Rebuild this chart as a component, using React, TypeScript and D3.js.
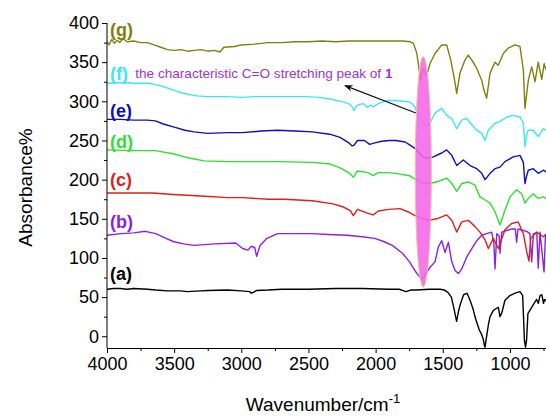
import React, { useEffect, useRef } from 'react';
import * as d3 from 'd3';

// FTIR spectra, offset vertically. [wavenumber, absorbance%]
const traceA: [number, number][] = [
  [4000,60],[3950,61],[3900,61],[3850,60],[3800,61],[3700,60],[3637,59],[3550,58],[3450,58],[3404,57],[3300,58],[3249,58.5],
  [3100,59],[3000,58],[2938,57],[2925,55],[2900,57],[2886,58.5],[2800,59],[2700,60],[2500,60],[2300,61],[2100,61],[1900,60],
  [1824,60],[1790,58],[1773,57],[1740,59],[1695,59],[1600,60],[1520,60],[1488,59],[1462,56],[1436,50],[1415,34],[1397,19],
  [1385,30],[1371,40],[1345,53],[1319,55],[1297,46],[1275,35],[1255,22],[1228,8],[1210,2],[1198,-4],[1190,-12],[1185,-14],
  [1177,-4],[1160,15],[1148,25],[1123,33],[1086,37],[1074,25],[1060,30],[1037,46],[1000,52],[962,55],[925,57],[905,52],
  [892,-5],[884,-14],[876,-5],[866,29],[838,37],[820,42],[801,47],[788,42],[776,52],[762,53],[750,42],[742,47],[731,45]
];

const traceB: [number, number][] = [
  [4000,129],[3896,131],[3800,132],[3715,134],[3637,131],[3560,125],[3508,121],[3430,118],[3352,116],[3197,118],[3042,119],
  [2990,112],[2951,110],[2925,115],[2900,113],[2886,102],[2860,116],[2809,125],[2731,131],[2600,131],[2472,131],[2350,130],
  [2213,129],[2100,127],[2006,125],[1940,121],[1876,116],[1800,106],[1747,95],[1700,82],[1682,78],[1657,73],[1632,78],
  [1595,88],[1558,95],[1533,114],[1508,122],[1483,107],[1458,120],[1433,95],[1408,84],[1384,80],[1359,86],[1322,101],
  [1284,112],[1247,122],[1210,129],[1173,131],[1136,133],[1120,120],[1111,86],[1098,131],[1080,128],[1074,106],[1061,133],
  [1024,135],[987,137],[960,137],[950,120],[940,137],[900,135],[875,134],[851,131],[838,95],[825,131],[800,132],[789,87],
  [776,133],[746,82],[735,131]
];

const traceC: [number, number][] = [
  [4000,183],[3800,183],[3663,183],[3508,181],[3301,179],[3100,177],[2990,177],[2800,175],[2679,175],[2472,173],[2317,169],
  [2239,165],[2187,160],[2166,154],[2135,162],[2057,157],[2018,155],[1980,160],[1900,162],[1818,163],[1747,158],[1719,155],
  [1608,148],[1545,150],[1471,155],[1433,148],[1396,133],[1359,146],[1310,148],[1260,140],[1223,133],[1185,123],[1161,112],
  [1123,125],[1086,112],[1037,136],[987,144],[938,146],[900,131],[875,108],[858,96],[845,125],[801,133],[751,127],[731,130]
];

const traceD: [number, number][] = [
  [4000,238],[3800,237],[3640,237],[3508,233],[3400,228],[3275,224],[3100,223],[2990,223],[2731,223],[2472,222],[2342,220],
  [2265,215],[2200,209],[2166,203],[2135,211],[2057,209],[2018,205],[1980,209],[1900,209],[1818,207],[1747,205],[1719,202],
  [1645,195],[1608,195],[1545,197],[1471,202],[1433,195],[1396,185],[1359,195],[1310,197],[1260,193],[1223,178],[1185,174],
  [1148,170],[1111,159],[1074,142],[1037,161],[999,178],[950,187],[912,182],[888,170],[863,176],[826,182],[789,176],
  [751,178],[731,176]
];

const traceE: [number, number][] = [
  [4000,277],[3900,277],[3800,276],[3700,276],[3640,275],[3580,271],[3500,267],[3420,263],[3352,261],[3250,259],[3100,260],
  [2990,260],[2850,262],[2731,263],[2600,262],[2472,261],[2342,258],[2265,254],[2200,247],[2175,243],[2160,244],[2135,250],
  [2083,250],[2044,245],[2006,247],[1954,249],[1900,250],[1850,250],[1780,248],[1744,244],[1707,240],[1670,233],[1640,228],
  [1620,227],[1570,229],[1508,234],[1471,238],[1433,231],[1396,218],[1347,225],[1297,218],[1247,214],[1210,208],[1185,200],
  [1148,208],[1111,214],[1074,216],[1037,223],[975,229],[925,231],[900,222],[888,195],[875,205],[863,212],[826,214],
  [789,208],[751,212],[731,210]
];

const traceF: [number, number][] = [
  [4000,323],[3900,324],[3800,323],[3690,323],[3630,321],[3586,319],[3500,314],[3430,310],[3330,307],[3250,306],[3100,306],
  [3000,305],[2900,306],[2800,306],[2700,306],[2600,306],[2520,306],[2420,305],[2340,303],[2260,300],[2200,297],[2175,293],
  [2160,288],[2145,294],[2120,296],[2090,297],[2060,292],[2040,295],[2018,293],[1990,296],[1967,298],[1930,300],[1893,301],
  [1850,301],[1800,300],[1744,299],[1707,293],[1682,280],[1645,272],[1620,267],[1595,272],[1558,285],[1508,291],[1471,282],
  [1433,278],[1396,265],[1359,276],[1322,278],[1284,270],[1247,263],[1210,259],[1185,250],[1161,263],[1111,272],[1074,274],
  [1024,280],[975,282],[925,280],[900,272],[888,242],[875,258],[863,263],[826,263],[789,255],[751,265],[731,263]
];

const traceG: [number, number][] = [
  [4000,376],[3985,372],[3965,379],[3945,374],[3925,378],[3905,375],[3880,380],[3850,376],[3800,377],[3750,375],[3700,375],
  [3650,372],[3600,369],[3550,366],[3500,365],[3450,366],[3400,364],[3350,365],[3300,366],[3250,364],[3200,365],[3160,363],
  [3130,369],[3050,370],[3000,372],[2900,373],[2800,375],[2700,375],[2600,376],[2500,376],[2400,377],[2300,376],[2200,377],
  [2100,377],[2000,377],[1900,377],[1800,377],[1740,376],[1719,374],[1694,362],[1664,327],[1645,342],[1620,333],[1595,348],
  [1558,361],[1508,372],[1471,372],[1441,353],[1416,331],[1396,310],[1372,336],[1334,353],[1310,359],[1284,353],[1247,342],
  [1210,327],[1193,314],[1173,304],[1148,336],[1111,350],[1087,346],[1049,361],[1012,368],[962,372],[925,370],[900,340],
  [888,291],[863,327],[838,344],[813,325],[789,350],[763,328],[745,348],[731,340]
];

const seriesNames = ['(a)', '(b)', '(c)', '(d)', '(e)', '(f)', '(g)'];
const seriesData = [traceA, traceB, traceC, traceD, traceE, traceF, traceG];
const seriesColors = ['#000000', '#8a22e6', '#e01e1e', '#33dd33', '#1010b4', '#3ee6f2', '#808010'];
// y value where each series label sits (its baseline)
const labelLevels = [72, 138, 192, 241, 280, 327, 383];

const yTicks = [0, 50, 100, 150, 200, 250, 300, 350, 400];
const xTicks = [4000, 3500, 3000, 2500, 2000, 1500, 1000];

const peakBand = { center: 1645, halfWidth: 60, low: 63, high: 357 };
const arrowFrom: [number, number] = [1700, 285];
const arrowTo: [number, number] = [2228, 320];
const noteAt: [number, number] = [3790, 330];

const W = 546, H = 418;
const font = '"Liberation Sans", Arial, sans-serif';

const App = () => {
  const ref = useRef<SVGSVGElement>(null);

  useEffect(() => {
    const svg = d3.select(ref.current);
    svg.selectAll('*').remove();

    const x = d3.scaleLinear().domain([4000, 400]).range([107, 590.5]);
    const y = d3.scaleLinear().domain([-15, 400]).range([348, 23]);

    svg.append('defs').append('clipPath').attr('id', 'plotclip')
      .append('rect').attr('x', 107).attr('y', 0).attr('width', W).attr('height', 348);

    const line = d3.line<[number, number]>().x(d => x(d[0])).y(d => y(d[1]));

    const plot = svg.append('g').attr('clip-path', 'url(#plotclip)');
    seriesData.forEach((data, i) => {
      plot.append('path')
        .attr('d', line(data))
        .attr('fill', 'none')
        .attr('stroke', seriesColors[i])
        .attr('stroke-width', 1.4)
        .attr('stroke-linejoin', 'round');
    });

    // highlighted C=O band
    const cy = (y(peakBand.low) + y(peakBand.high)) / 2;
    svg.append('ellipse')
      .attr('cx', x(peakBand.center))
      .attr('cy', cy)
      .attr('rx', Math.abs(x(peakBand.center - peakBand.halfWidth) - x(peakBand.center)))
      .attr('ry', (y(peakBand.low) - y(peakBand.high)) / 2)
      .attr('fill', '#f565ea')
      .attr('fill-opacity', 0.88)
      .attr('stroke', '#f2c48a')
      .attr('stroke-width', 1);

    // axes
    const yAxis = svg.append('g').attr('transform', 'translate(107,0)')
      .call(d3.axisLeft(y).tickValues(yTicks).tickFormat(d3.format('d')).tickSize(5).tickSizeOuter(0).tickPadding(3));
    svg.append('g').attr('transform', 'translate(107,0)')
      .call(d3.axisLeft(y).tickValues(d3.range(25, 400, 50)).tickSize(3).tickFormat(() => ''))
      .select('.domain').remove();
    yAxis.select('.domain').attr('d', `M0,${y(400)}V${y(-15)}`);

    svg.append('g').attr('transform', 'translate(0,348)')
      .call(d3.axisBottom(x).tickValues(xTicks).tickFormat(d3.format('d')).tickSize(5).tickSizeOuter(0).tickPadding(4));
    svg.append('g').attr('transform', 'translate(0,348)')
      .call(d3.axisBottom(x).tickValues(d3.range(3750, 400, -500)).tickSize(3).tickFormat(() => ''))
      .select('.domain').remove();

    svg.selectAll('.tick text')
      .style('font-family', font)
      .style('font-size', '18px')
      .attr('fill', '#000');
    svg.selectAll('.domain, .tick line').attr('stroke', '#000');

    // series labels
    seriesNames.forEach((name, i) => {
      svg.append('text')
        .attr('x', 110)
        .attr('y', y(labelLevels[i]))
        .attr('fill', seriesColors[i])
        .style('font-family', font)
        .style('font-size', '18px')
        .style('font-weight', 'bold')
        .text(name);
    });

    // annotation
    const note = svg.append('text')
      .attr('x', x(noteAt[0]))
      .attr('y', y(noteAt[1]))
      .attr('fill', '#9b35d2')
      .style('font-family', font)
      .style('font-size', '13.6px');
    note.append('tspan').text('the characteristic C=O stretching peak of ');
    note.append('tspan').style('font-weight', 'bold').text('1');

    svg.append('defs').append('marker')
      .attr('id', 'arrowhead')
      .attr('viewBox', '0 0 10 10')
      .attr('refX', 9).attr('refY', 5)
      .attr('markerWidth', 7).attr('markerHeight', 7)
      .attr('orient', 'auto')
      .append('path').attr('d', 'M0,1L10,5L0,9L3,5Z').attr('fill', '#111');

    svg.append('line')
      .attr('x1', x(arrowFrom[0])).attr('y1', y(arrowFrom[1]))
      .attr('x2', x(arrowTo[0])).attr('y2', y(arrowTo[1]))
      .attr('stroke', '#111')
      .attr('stroke-width', 1.2)
      .attr('marker-end', 'url(#arrowhead)');

    // axis titles
    svg.append('text')
      .attr('transform', `translate(32,${(y(-15) + y(400)) / 2 + 2}) rotate(-90)`)
      .attr('text-anchor', 'middle')
      .style('font-family', font)
      .style('font-size', '19px')
      .text('Absorbance%');

    const xt = svg.append('text')
      .attr('x', 323)
      .attr('y', 411)
      .attr('text-anchor', 'middle')
      .style('font-family', font)
      .style('font-size', '19px');
    xt.append('tspan').text('Wavenumber/cm');
    xt.append('tspan').attr('dy', -8).style('font-size', '13px').text('-1');
  }, []);

  return (
    <div style={{ position: 'absolute', left: 0, top: 0, width: W, height: H, background: '#fff' }}>
      <svg ref={ref} width={W} height={H}></svg>
    </div>
  );
};

export default App;
